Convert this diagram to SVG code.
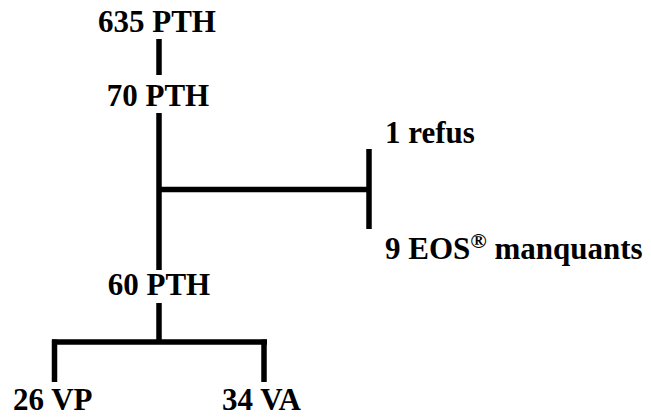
<svg xmlns="http://www.w3.org/2000/svg" width="651" height="417" viewBox="0 0 651 417">
<style>
text{font-family:"Liberation Serif","Times New Roman",serif;font-weight:bold;font-size:31px;fill:#000}
.c{text-anchor:middle}
line{stroke:#000;stroke-width:5.5}
</style>
<rect width="651" height="417" fill="#fff"/>
<g id="connectors">
<line x1="159" y1="39" x2="159" y2="75"/>
<line x1="159" y1="113" x2="159" y2="270"/>
<line x1="159" y1="189.5" x2="369" y2="189.5"/>
<line x1="369" y1="149" x2="369" y2="229"/>
<line x1="159" y1="303" x2="159" y2="342"/>
<line x1="52" y1="342" x2="267" y2="342"/>
<line x1="54.5" y1="339.5" x2="54.5" y2="382"/>
<line x1="264" y1="339.5" x2="264" y2="382"/>
</g>
<g id="n635"><text class="c" x="157" y="32">635 PTH</text></g>
<g id="n70"><text class="c" x="158" y="106">70 PTH</text></g>
<g id="refus"><text x="385" y="143">1 refus</text></g>
<g id="eos"><text x="385" y="259">9 EOS<tspan font-size="22" dy="-11">®</tspan><tspan dy="11"> manquants</tspan></text></g>
<g id="n60"><text class="c" x="159" y="295">60 PTH</text></g>
<g id="vp"><text x="13" y="410">26 VP</text></g>
<g id="va"><text x="222" y="410">34 VA</text></g>
</svg>
